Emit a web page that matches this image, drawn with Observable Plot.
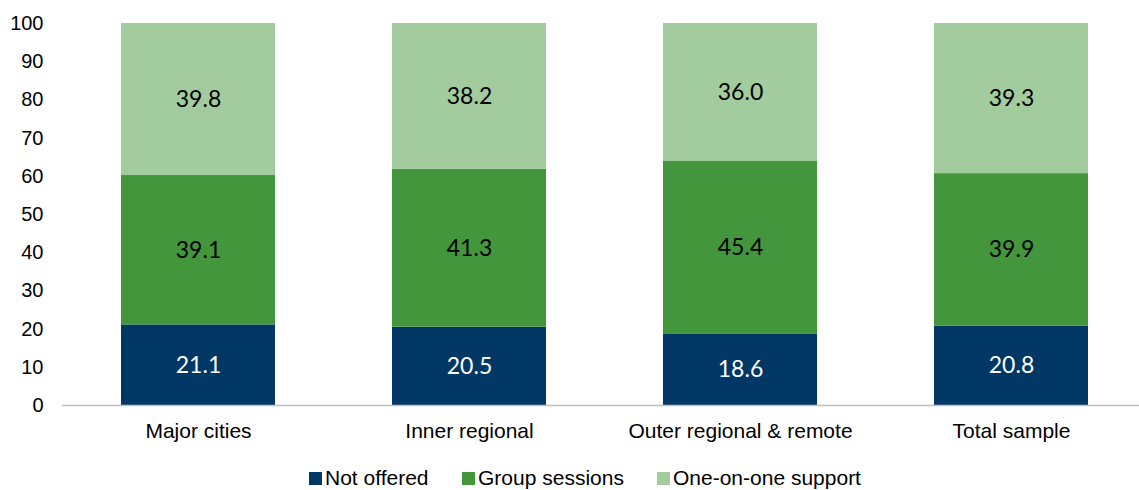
<!DOCTYPE html>
<html>
<head>
<meta charset="utf-8">
<script src="https://cdn.jsdelivr.net/npm/d3@7"></script>
<script src="https://cdn.jsdelivr.net/npm/@observablehq/plot@0.6"></script>
<style>
  html, body { margin: 0; padding: 0; background: #fff; }
  #chart { width: 1139px; }
  .legend { position: relative; height: 35px; font-family: "Liberation Sans", Arial, sans-serif; font-size: 21px; color: #000; }
  .legend span.item { position: absolute; top: 11px; white-space: nowrap; line-height: 24px; }
  .legend span.sw { display: inline-block; width: 13px; height: 13px; margin-right: 3px; vertical-align: 0px; }
</style>
</head>
<body>
<div id="chart"></div>
<script>
const categories = ["Major cities", "Inner regional", "Outer regional & remote", "Total sample"];
const seriesNames = ["Not offered", "Group sessions", "One-on-one support"];
const notOffered = [21.1, 20.5, 18.6, 20.8];
const groupSessions = [39.1, 41.3, 45.4, 39.9];
const oneOnOne = [39.8, 38.2, 36.0, 39.3];
const yTicks = [0, 10, 20, 30, 40, 50, 60, 70, 80, 90, 100];
const colors = ["#003764", "#44963d", "#a3cc9e"];
const labelColors = ["#ffffff", "#000000", "#000000"];

const seriesValues = [notOffered, groupSessions, oneOnOne];
const data = [];
categories.forEach((c, i) => {
  seriesNames.forEach((s, j) => {
    data.push({category: c, series: s, value: seriesValues[j][i], labelColor: labelColors[j]});
  });
});

const plot = Plot.plot({
  width: 1139,
  height: 455,
  marginTop: 23,
  marginBottom: 50,
  marginLeft: 62,
  marginRight: 0,
  style: {fontFamily: "'Liberation Sans', Arial, sans-serif", fontSize: "20px", color: "#000", background: "#fff"},
  x: {domain: categories, range: [62, 1146], paddingInner: 0.432, paddingOuter: 0.216, label: null, tickSize: 0, tickPadding: 18},
  y: {domain: [0, 100], ticks: yTicks, label: null, tickSize: 0, tickPadding: 19},
  color: {domain: seriesNames, range: colors},
  marks: [
    Plot.barY(data, {x: "category", y: "value", fill: "series", order: seriesNames}),
    Plot.ruleX([0], {x: () => null, frameAnchor: "left", stroke: "#bfbfbf", strokeWidth: 1.5}),
    Plot.ruleY([0], {stroke: "#bfbfbf", strokeWidth: 1.5}),
    Plot.text(data, Plot.stackY({
      x: "category", y: "value", z: "series", order: seriesNames,
      text: d => d.value.toFixed(1),
      fill: "labelColor",
      fontSize: 23,
      fontFamily: "Lato, 'Open Sans', sans-serif"
    }))
  ]
});
plot.querySelectorAll("g[aria-label='x-axis tick label'] text").forEach(t => t.style.fontSize = "21px");
document.getElementById("chart").appendChild(plot);

const legend = document.createElement("div");
legend.className = "legend";
const lefts = [309, 462, 657];
seriesNames.forEach((s, j) => {
  const it = document.createElement("span");
  it.className = "item";
  it.style.left = lefts[j] + "px";
  const sw = document.createElement("span");
  sw.className = "sw";
  sw.style.background = colors[j];
  it.appendChild(sw);
  it.appendChild(document.createTextNode(s));
  legend.appendChild(it);
});
document.getElementById("chart").appendChild(legend);
</script>
</body>
</html>
